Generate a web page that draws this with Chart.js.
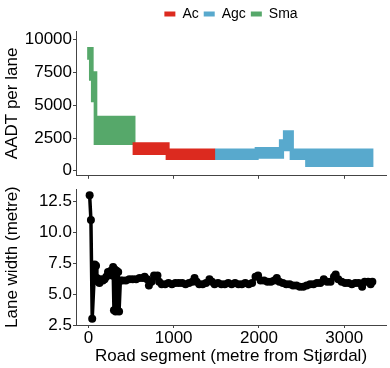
<!DOCTYPE html>
<html>
<head>
<meta charset="utf-8">
<script src="https://cdn.jsdelivr.net/npm/chart.js@4.4.1/dist/chart.umd.min.js"></script>
<style>
  html, body { margin: 0; padding: 0; background: #fff; }
  #wrap { position: relative; width: 390px; height: 368px; }
  canvas { position: absolute; left: 0; }
  #aadtChart { top: 0; }
  #widthChart { top: 178px; }
</style>
</head>
<body>
<div id="wrap">
  <canvas id="aadtChart" width="390" height="187"></canvas>
  <canvas id="widthChart" width="390" height="190"></canvas>
</div>
<script>
// tick labels
const xTicks = [0, 1000, 2000, 3000];
const aadtTicks = [0, 2500, 5000, 7500, 10000];
const widthTicks = [2.5, 5, 7.5, 10, 12.5];

// AADT ribbons, one per pavement class (x = metre, values hold until next x)
const acX = [516, 906, 953, 1489];
const acUpper = [2170, 2170, 1700, 1700];
const acLower = [1200, 830, 830, 830];

const agcX = [1481, 1950, 1997, 2234, 2281, 2295, 2360, 2410, 2542, 3345];
const agcUpper = [1700, 1820, 1820, 2400, 3100, 3100, 3100, 1700, 1700, 1700];
const agcLower = [830, 830, 910, 910, 910, 1500, 830, 830, 280, 280];

const smaX = [-15, 7, 30, 62, 105, 555];
const smaUpper = [9440, 9440, 9440, 7590, 4200, 4200];
const smaLower = [8470, 6870, 5220, 1960, 1960, 1960];

// lane width along the road
const laneX = [15, 30, 45, 75, 90, 100, 115, 130, 150, 170, 190, 210, 230, 250, 265, 280, 290, 300, 310, 320, 330, 340, 350, 360, 375,
  400, 440, 480, 520, 560, 600, 640, 660, 690, 710, 740, 770, 790, 810, 830, 860, 900, 940, 980, 1020, 1060, 1100, 1140, 1180,
  1220, 1245, 1270, 1300, 1340, 1380, 1420, 1450, 1480, 1520, 1560, 1600, 1640, 1680, 1720, 1760, 1800, 1840, 1880, 1920, 1960,
  1990, 2020, 2060, 2100, 2140, 2180, 2210, 2240, 2280, 2320, 2360, 2400, 2440, 2480, 2520, 2560, 2600, 2640, 2680, 2720, 2760,
  2800, 2840, 2880, 2900, 2930, 2970, 3010, 3050, 3090, 3130, 3170, 3210, 3240, 3280, 3310, 3330];
const laneWidth = [13.0, 11.0, 3.0, 7.4, 7.3, 6.3, 6.0, 5.9, 6.2, 6.1, 6.2, 6.4, 6.8, 6.6, 6.9, 6.5, 7.2, 3.7, 7.0, 3.6, 6.9, 3.7, 6.8, 3.6, 6.1,
  6.1, 6.1, 6.2, 6.2, 6.2, 6.3, 6.3, 6.4, 6.2, 5.7, 6.0, 6.5, 6.4, 6.5, 6.0, 5.8, 5.8, 5.9, 5.8, 5.9, 5.9, 5.9, 5.8, 5.9,
  6.0, 6.3, 6.0, 5.8, 5.8, 5.9, 6.2, 6.0, 5.8, 5.9, 5.8, 5.8, 5.9, 5.8, 5.9, 5.8, 5.8, 5.9, 5.8, 5.9, 6.4,
  6.5, 6.1, 6.1, 6.0, 6.0, 6.1, 6.3, 6.0, 5.9, 5.8, 5.8, 5.7, 5.7, 5.6, 5.6, 5.7, 5.8, 5.8, 5.9, 5.9, 6.2,
  6.0, 6.0, 6.4, 6.6, 6.2, 6.0, 5.9, 5.9, 5.8, 5.9, 5.9, 5.6, 6.0, 6.0, 5.8, 6.0];

const xMin = -145, xMax = 3490;
const axisColor = "#444";
const fontFamily = "'Liberation Sans', Arial, sans-serif";
Chart.defaults.font.family = fontFamily;
Chart.defaults.color = "#000";

function ribbon(name, color, xs, upper, lower) {
  return [
    { label: name, data: xs.map((x, i) => ({ x: x, y: upper[i] })), stepped: true, fill: "+1",
      backgroundColor: color, borderColor: "rgba(0,0,0,0)", borderWidth: 0, pointRadius: 0 },
    { label: "", data: xs.map((x, i) => ({ x: x, y: lower[i] })), stepped: true, fill: false,
      backgroundColor: color, borderColor: "rgba(0,0,0,0)", borderWidth: 0, pointRadius: 0 }
  ];
}

function fixTicks(list) {
  return function (scale) { scale.ticks = list.map(v => ({ value: v })); };
}

const aadtChart = new Chart(document.getElementById("aadtChart"), {
  type: "line",
  data: {
    datasets: [].concat(
      ribbon("Ac", "#dc2a1f", acX, acUpper, acLower),
      ribbon("Agc", "#58a9cd", agcX, agcUpper, agcLower),
      ribbon("Sma", "#56a86a", smaX, smaUpper, smaLower)
    )
  },
  options: {
    responsive: false, animation: false,
    layout: { padding: { top: 2, right: 4, left: 0, bottom: 0 } },
    plugins: {
      legend: {
        position: "top", fullSize: false,
        labels: { boxWidth: 11, boxHeight: 5, padding: 5, color: "#000", font: { size: 14 },
          filter: item => item.text !== "" }
      },
      tooltip: { enabled: false }
    },
    scales: {
      x: {
        type: "linear", min: xMin, max: xMax,
        afterBuildTicks: fixTicks(xTicks),
        ticks: { display: false },
        grid: { drawOnChartArea: false, tickLength: 3, color: axisColor },
        border: { color: axisColor },
        afterFit: s => { s.height = 8; }
      },
      y: {
        min: -382, max: 10664,
        afterBuildTicks: fixTicks(aadtTicks),
        ticks: { callback: v => String(v), padding: 1, color: "#000", font: { size: 17 } },
        grid: { drawOnChartArea: false, tickLength: 3, color: axisColor },
        border: { color: axisColor },
        title: { display: true, text: "AADT per lane", color: "#000", font: { size: 17 }, padding: { top: 2, bottom: 0 } },
        afterFit: s => { s.width = 76; }
      }
    }
  }
});

const widthChart = new Chart(document.getElementById("widthChart"), {
  type: "line",
  data: {
    datasets: [{
      label: "Lane width",
      data: laneX.map((x, i) => ({ x: x, y: laneWidth[i] })),
      borderColor: "#000", borderWidth: 3.5, fill: false, tension: 0,
      pointRadius: 4, pointBackgroundColor: "#000", pointBorderWidth: 0
    }]
  },
  options: {
    responsive: false, animation: false,
    layout: { padding: { top: 0, right: 4, left: 0, bottom: 0 } },
    plugins: { legend: { display: false }, tooltip: { enabled: false } },
    scales: {
      x: {
        type: "linear", min: xMin, max: xMax,
        afterBuildTicks: fixTicks(xTicks),
        ticks: { callback: v => String(v), padding: 0, color: "#000", font: { size: 17 }, maxRotation: 0 },
        grid: { drawOnChartArea: false, tickLength: 3, color: axisColor },
        border: { color: axisColor },
        title: { display: true, text: "Road segment (metre from Stjørdal)", color: "#000", font: { size: 17 }, padding: { top: 0, bottom: 1 } },
        afterFit: s => { s.height = 43; }
      },
      y: {
        min: 2.5, max: 13.5,
        afterBuildTicks: fixTicks(widthTicks),
        ticks: { callback: v => v.toFixed(1), padding: 1, color: "#000", font: { size: 17 } },
        grid: { drawOnChartArea: false, tickLength: 3, color: axisColor },
        border: { color: axisColor },
        title: { display: true, text: "Lane width (metre)", color: "#000", font: { size: 17 }, padding: { top: 2, bottom: 0 } },
        afterFit: s => { s.width = 76; }
      }
    }
  }
});
</script>
</body>
</html>
